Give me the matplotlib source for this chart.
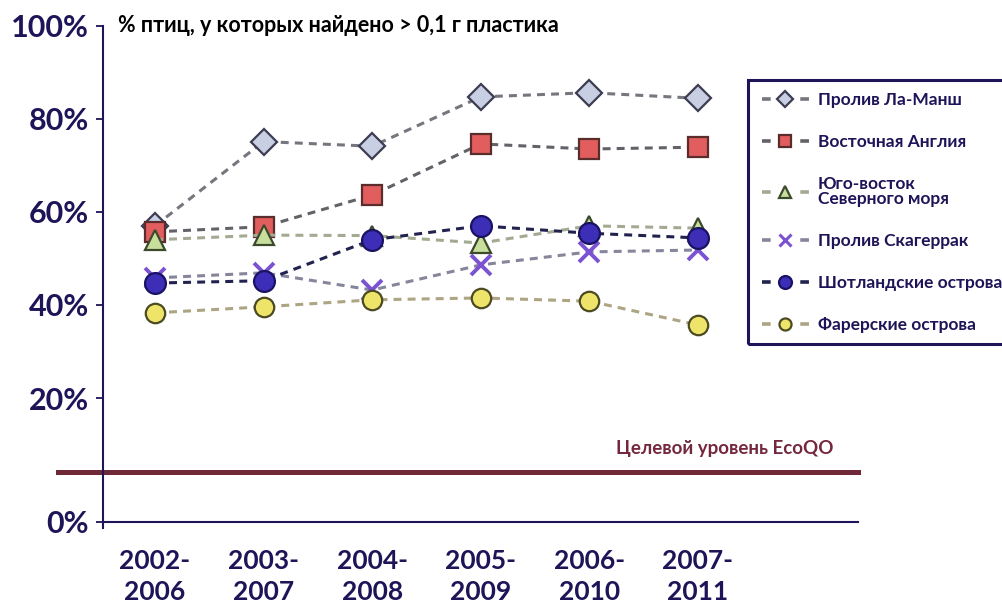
import numpy as np
import matplotlib
matplotlib.use("Agg")
import matplotlib.pyplot as plt
from matplotlib.lines import Line2D
from matplotlib.patches import Rectangle

plt.rcParams['font.family'] = ['Lato', 'Open Sans', 'DejaVu Sans']

# --- data -------------------------------------------------------------
periods = ["2002-\n2006", "2003-\n2007", "2004-\n2008", "2005-\n2009", "2006-\n2010", "2007-\n2011"]
series_names = ["Пролив Ла-Манш", "Восточная Англия", "Юго-восток\nСеверного моря",
                "Пролив Скагеррак", "Шотландские острова", "Фарерские острова"]
la_mansh = [57.0, 75.1, 74.1, 84.7, 85.6, 84.4]
east_anglia = [55.7, 56.8, 63.6, 74.6, 73.5, 73.9]
se_north_sea = [54.0, 55.0, 54.9, 53.3, 57.0, 56.5]
skagerrak = [45.8, 46.9, 43.2, 48.6, 51.4, 51.8]
shetland = [44.7, 45.2, 54.0, 57.0, 55.4, 54.4]
faroe = [38.3, 39.6, 41.1, 41.5, 40.8, 35.7]
ecoqo_target = 10
y_ticks = [0, 20, 40, 60, 80, 100]

# --- styles -----------------------------------------------------------
NAVY = "#1e1558"
styles = [
    dict(marker="D", ms=13.5, mfc="#c9cfe2", mec="#3c3c52", mew=1.6, color="#76767e"),
    dict(marker="s", ms=15, mfc="#e25e5e", mec="#5a2c2c", mew=1.6, color="#626268"),
    dict(marker="^", ms=15, mfc="#c7de9c", mec="#3c4a2c", mew=1.6, color="#a3aa92"),
    dict(marker="x", ms=14, mfc="#7a52d2", mec="#7a52d2", mew=2.8, color="#85859c"),
    dict(marker="o", ms=15, mfc="#3c2eb6", mec="#1a1262", mew=1.6, color="#22224e"),
    dict(marker="o", ms=14, mfc="#efe46a", mec="#4c4a22", mew=1.6, color="#aca482"),
]
all_series = [la_mansh, east_anglia, se_north_sea, skagerrak, shetland, faroe]

# piecewise-linear vertical scale (the 0–20 % band is drawn taller)
_v = np.array([-100.0, 0.0, 10.0, 20.0, 200.0])
_p = np.array([-500.0, 0.0, 50.0, 123.7, 123.7 + 180 * 4.654])


def fwd(v):
    return np.interp(v, _v, _p)


def inv(p):
    return np.interp(p, _p, _v)


W, H = 1003, 608
fig = plt.figure(figsize=(W / 100, H / 100), dpi=100)
ax_l, ax_r, ax_b, ax_t = 103, 858, 521.7, 25.7
ax = fig.add_axes([ax_l / W, 1 - ax_b / H, (ax_r - ax_l) / W, (ax_b - ax_t) / H])
ax.set_yscale("function", functions=(fwd, inv))

x = np.arange(len(periods))
for vals, st in zip(all_series, styles):
    ax.plot(x, vals, ls=(0, (2.6, 2.0)), lw=2.2, clip_on=False, **st)

# target line
ax.axhline(ecoqo_target, xmin=(58 - ax_l) / (ax_r - ax_l), xmax=1.0,
           color="#6e2838", lw=3.6, clip_on=False, zorder=1)
ax.text(6.25, ecoqo_target + 3.1, "Целевой уровень EcoQO", ha="right", va="center",
        fontsize=13.5, fontweight="bold", color="#74283e")

ax.set_ylim(0, 100)
x0 = 155
step = 108.6
ax.set_xlim((ax_l - x0) / step, (ax_r - x0) / step)

ax.set_yticks(y_ticks)
ax.set_yticklabels([f"{t}%" for t in y_ticks])
ax.set_xticks(x)
ax.set_xticklabels(periods, linespacing=1.35)

for s in ["top", "right"]:
    ax.spines[s].set_visible(False)
for s in ["left", "bottom"]:
    ax.spines[s].set_color(NAVY)
    ax.spines[s].set_linewidth(1.5)
ax.spines["left"].set_bounds(-1.2, 100)

ax.tick_params(axis="y", direction="out", length=5, width=1.3, color=NAVY,
               labelsize=22, labelcolor=NAVY, pad=5)
ax.tick_params(axis="x", length=0, labelsize=19, labelcolor=NAVY, pad=20)
for lab in ax.get_yticklabels() + ax.get_xticklabels():
    lab.set_fontweight("bold")

fig.text(118 / W, 1 - 26 / H, "% птиц, у которых найдено > 0,1 г пластика",
         ha="left", va="center", fontsize=15.5, fontweight="bold", color="black")

# legend
handles = []
for name, st in zip(series_names, styles):
    hs = dict(st)
    hs["ms"] = st["ms"] * 0.62
    if hs["marker"] == "x":
        hs["mew"] = 2.2
    handles.append(Line2D([], [], ls=(0, (2.4, 8.2)), lw=2.6, **hs))
leg = fig.legend(handles, series_names, loc="upper left",
                 bbox_to_anchor=(762 / W, 1 - 92 / H), frameon=False,
                 borderpad=0, borderaxespad=0, handlelength=2.7, handletextpad=0.5,
                 labelspacing=1.5, prop=dict(size=12.5, weight="bold"))
for t in leg.get_texts():
    t.set_color(NAVY)
    t.set_linespacing(0.9)

fig.patches.append(Rectangle((748 / W, 1 - 344 / H), 300 / W, (344 - 80) / H,
                             transform=fig.transFigure, fill=False,
                             edgecolor=NAVY, lw=2.2))

fig.savefig("out.png", dpi=100)
